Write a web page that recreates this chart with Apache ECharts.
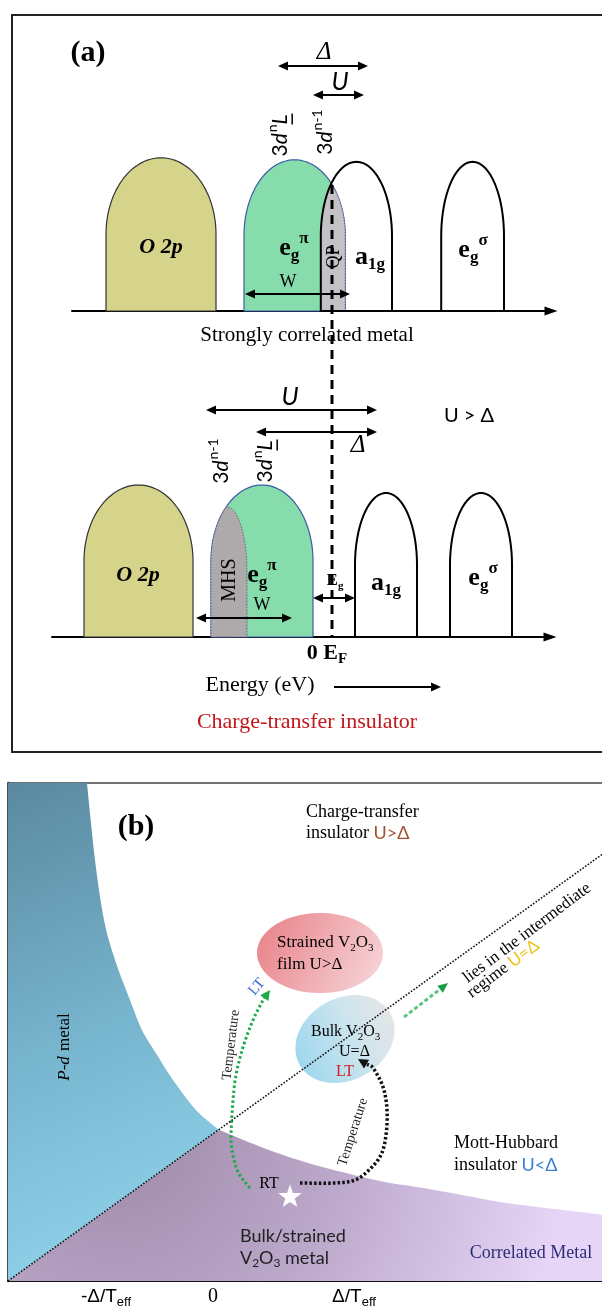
<!DOCTYPE html>
<html><head><meta charset="utf-8">
<script src="https://cdn.jsdelivr.net/npm/echarts@6/dist/echarts.min.js"></script>
<style>html,body{margin:0;padding:0;background:#fff}#c{width:602px;height:1311px}</style>
</head><body><div id="c"></div>
<script>
// ================= DATA =================
// Panel (a) upper: bands [O 2p, eg_pi, a1g, eg_sigma] (energy, E_F = 0) and heights (DOS units)
const topBandLeft   = [-5.65, -2.2, -0.28, 2.73];
const topBandRight  = [-2.9, 0.33, 1.5, 4.3];
const topBandHeight = [3.83, 3.78, 3.73, 3.73];
// Panel (a) lower
const botBandLeft   = [-6.2, -3.025, 0.575, 2.95];
const botBandRight  = [-3.475, -0.475, 2.125, 4.5];
const botBandHeight = [3.8, 3.8, 3.6, 3.6];
const mhsLobe = [-3.125, -2.125, 3.25];           // left, right, height
// arrows [x1, y1, x2, y2, heads]
const topArrows = [[-1.35,6.125,0.9,6.125,2],[-0.475,5.4,0.8,5.4,2],[-2.175,0.425,0.45,0.425,2]];
const botArrows = [[-3.15,5.675,1.125,5.675,2],[-1.9,5.125,1.125,5.125,2],[-3.4,0.475,-1.0,0.475,2],[-0.475,0.975,0.575,0.975,2],[0.05,-1.25,2.725,-1.25,1]];
const fermiLine = [[0, 11.3],[0, 0]];

// Panel (b): phase boundary branches
const pdX = [-0.894,-0.837,-0.773,-0.695,-0.589,-0.504,-0.397,-0.284,-0.121,0.043];
const pdY = [3.532,2.986,2.560,2.277,1.993,1.780,1.603,1.426,1.213,1.071];
const cmX = [0.043,0.397,0.674,0.943,1.220,1.489,1.766,2.035,2.305,2.773];
const cmY = [1.071,0.929,0.837,0.766,0.702,0.660,0.610,0.560,0.525,0.468];
const diagX = [-1.454, 2.773];
const diagY = [0, 3.035];
const xMinB = -1.454, xMaxB = 2.773, yMaxB = 3.532;
// ellipses [cx, cy, rx, ry, rotDeg]
const ellStrained = [0.759, 2.326, 0.447, 0.284, 0];
const ellBulk     = [0.936, 1.716, 0.37, 0.29, 30];
const starPos = [0.546, 0.596];
const greenX = [0.262,0.177,0.135,0.128,0.142,0.163,0.213,0.284,0.355,0.404];
const greenY = [0.660,0.773,0.929,1.050,1.284,1.461,1.660,1.851,1.993,2.064];
const blackX = [0.617,0.865,1.007,1.106,1.191,1.227,1.234,1.206,1.135,1.028];
const blackY = [0.695,0.695,0.716,0.787,0.894,1.035,1.213,1.376,1.511,1.574];
const regimeArrow = [[1.355,1.872,1.667,2.113,1]];

// labels [x, y, styleKey, parts]
const labelsA1 = [
  [-6.1, 6.45, 'panel', [['(a)','']]],
  [-0.2, 6.475, 'greek', [['Δ','']]],
  [0.2, 5.725, 'uit', [['U','']]],
  [-1.3, 4.4, 'vert', [['3',''],['d','i'],['n','sup'],['L','i u']]],
  [-0.175, 4.475, 'vert', [['3',''],['d','i'],['n-1','sup']]],
  [-4.275, 1.6, 'band', [['O 2p','']]],
  [-0.95, 1.575, 'orb', [['e',''],['g','sub'],['π','sup']]],
  [-1.1, 0.725, 'w', [['W','']]],
  [0.05, 1.35, 'qp', [['QP','']]],
  [0.95, 1.35, 'orb', [['a',''],['1g','sub']]],
  [3.525, 1.525, 'orb', [['e',''],['g','sub'],['σ','sup']]],
  [-0.625, -0.6, 'caption', [['Strongly correlated metal','']]]
];
const labelsA2 = [
  [-1.05, 6.0, 'uit', [['U','']]],
  [0.65, 4.8, 'greek', [['Δ','']]],
  [3.425, 5.525, 'ugd', [['U > Δ','']]],
  [-2.775, 4.4, 'vert', [['3',''],['d','i'],['n-1','sup']]],
  [-1.675, 4.4, 'vert', [['3',''],['d','i'],['n','sup'],['L','i u']]],
  [-4.85, 1.55, 'band', [['O 2p','']]],
  [-2.55, 1.425, 'mhs', [['MHS','']]],
  [-1.75, 1.55, 'orb', [['e',''],['g','sub'],['π','sup']]],
  [-1.75, 0.8, 'w', [['W','']]],
  [0.075, 1.4, 'eg', [['E',''],['g','sub']]],
  [1.35, 1.35, 'orb', [['a',''],['1g','sub']]],
  [3.775, 1.475, 'orb', [['e',''],['g','sub'],['σ','sup']]],
  [-0.125, -0.4, 'ef', [['0 E',''],['F','sub']]],
  [-1.8, -1.2, 'cap2', [['Energy (eV)','']]],
  [-0.625, -2.125, 'red', [['Charge-transfer insulator','']]]
];
const labelsB = [
  [-0.546, 3.22, 'panel', [['(b)','']]],
  [0.66, 3.326, 'bt', [['Charge-transfer','']]],
  [0.66, 3.177, 'bt', [['insulator ',''],['U>Δ','cal #a0522d']]],
  [0.454, 2.397, 'bt17', [['Strained V',''],['2','sub'],['O',''],['3','sub']]],
  [0.454, 2.241, 'bt17', [['film U>Δ','']]],
  [0.695, 1.766, 'bt16', [['Bulk V',''],['2','sub'],['O',''],['3','sub']]],
  [0.894, 1.624, 'bt16', [['U=Δ','']]],
  [0.936, 1.482, 'btc', [['LT','#d02020']]],
  [0.312, 2.085, 'ltb', [['LT','']]],
  [0.128, 1.674, 'temp83', [['Temperature','']]],
  [0.993, 1.057, 'temp72', [['Temperature','']]],
  [0.397, 0.688, 'btc', [['RT','']]],
  [0.191, 0.319, 'calL', [['Bulk/strained','']]],
  [0.191, 0.163, 'calL', [['V',''],['2','sub'],['O',''],['3','sub'],[' metal','']]],
  [1.709, 0.979, 'bt', [['Mott-Hubbard','']]],
  [1.709, 0.823, 'bt', [['insulator ',''],['U<Δ','cal #3a80d0']]],
  [2.255, 0.199, 'cm', [['Correlated Metal','']]],
  [-1.05, 1.66, 'pd', [['P-d','i'],[' metal','']]],
  [2.227, 2.468, 'diag', [['lies in the intermediate','']]],
  [2.057, 2.213, 'diag', [['regime ',''],['U=Δ','cal #e8c41c']]],
  [-0.759, -0.113, 'tick', [['-Δ/T',''],['eff','sub']]],
  [0, -0.113, 'tick0', [['0','']]],
  [1.0, -0.113, 'tick', [['Δ/T',''],['eff','sub']]]
];

// ================= STYLE / HELPERS =================
const SERIF = '"Liberation Serif","Times New Roman",serif';
const SANS = '"Liberation Sans",Arial,sans-serif';
const CAL = 'Lato,"Open Sans",sans-serif';
const ARCH = 0.5;
const LSTYLE = {
  panel:{family:SERIF,size:30,weight:'bold'},
  greek:{family:SERIF,size:25,italic:true},
  uit:{family:CAL,size:25,italic:true},
  vert:{family:CAL,size:21,rot:90},
  band:{family:SERIF,size:22,weight:'bold',italic:true},
  orb:{family:SERIF,size:26,weight:'bold'},
  w:{family:SERIF,size:18},
  qp:{family:SERIF,size:18,rot:90},
  mhs:{family:SERIF,size:20,rot:90},
  caption:{family:SERIF,size:21,bg:'#fff'},
  cap2:{family:SERIF,size:22},
  red:{family:SERIF,size:22,color:'#c3161c'},
  ugd:{family:CAL,size:20},
  eg:{family:SERIF,size:17,weight:'bold',bg:'#fff'},
  ef:{family:SERIF,size:22,weight:'bold'},
  bt:{family:SERIF,size:18,align:'left'},
  bt17:{family:SERIF,size:17,align:'left'},
  bt16:{family:SERIF,size:16,align:'left'},
  btc:{family:SERIF,size:16},
  ltb:{family:SERIF,size:15,rot:50,color:'#3b6bd0'},
  temp83:{family:SERIF,size:14,rot:83,color:'#222'},
  temp72:{family:SERIF,size:14,rot:72,color:'#222'},
  calL:{family:CAL,size:18,align:'left',color:'#222'},
  cm:{family:SERIF,size:18,color:'#2d2d76'},
  pd:{family:SERIF,size:17,rot:90},
  diag:{family:SERIF,size:17,rot:37},
  tick:{family:SANS,size:19},
  tick0:{family:SERIF,size:20}
};
const mctx = document.createElement('canvas').getContext('2d');

function buildLabel(api, L) {
  const st = LSTYLE[L[2]];
  const p = api.coord([L[0], L[1]]);
  const base = st.size;
  const items = L[3].map(([t, f]) => {
    const fl = (f || '').split(' ');
    const sub = fl.includes('sub'), sup = fl.includes('sup');
    const size = (sub || sup) ? Math.round(base * 0.66) : base;
    const italic = st.italic || fl.includes('i');
    const fam = fl.includes('cal') ? CAL : st.family;
    const col = fl.find(s => s.startsWith('#')) || st.color || '#000';
    const weight = st.weight || 'normal';
    const fstyle = italic ? 'italic' : 'normal';
    mctx.font = fstyle + ' ' + weight + ' ' + size + 'px ' + fam;
    const w = mctx.measureText(t).width + (italic && !st.italic ? 1 : 0);
    return {t, size, fam, col, weight, fstyle, w, dy: sub ? base * 0.3 : sup ? -base * 0.38 : 0, u: fl.includes('u')};
  });
  const total = items.reduce((s, i) => s + i.w, 0);
  let x = st.align === 'left' ? 0 : -total / 2;
  const children = [];
  if (st.bg) children.push({type:'rect', shape:{x: x - 3, y: -base * 0.6, width: total + 6, height: base * 1.3}, style:{fill: st.bg}});
  items.forEach(it => {
    children.push({type:'text', x: x, y: it.dy, style:{text: it.t, fontSize: it.size, fontFamily: it.fam, fontWeight: it.weight, fontStyle: it.fstyle, fill: it.col, align:'left', verticalAlign:'middle'}});
    if (it.u) children.push({type:'line', shape:{x1: x, y1: it.size * 0.58, x2: x + it.w, y2: it.size * 0.58}, style:{stroke: it.col, lineWidth: 1.5}});
    x += it.w;
  });
  return {type:'group', x: p[0], y: p[1], rotation: (st.rot || 0) * Math.PI / 180, children};
}
function labelSeries(gi, labels) {
  return {type:'custom', xAxisIndex: gi, yAxisIndex: gi, clip: false, silent: true,
    data: labels.map((l, i) => [l[0], l[1], i]),
    renderItem: (params, api) => buildLabel(api, labels[api.value(2)])};
}

function domeTop(E, l, r, h) {
  const cx = (l + r) / 2, rx = (r - l) / 2, ry = h * ARCH, yb = h - ry;
  let u = (E - cx) / rx; u = Math.max(-1, Math.min(1, u));
  return yb + ry * Math.sqrt(1 - u * u);
}
function domePts(l, r, h) {
  const cx = (l + r) / 2, rx = (r - l) / 2, ry = h * ARCH, yb = h - ry, pts = [[l, 0]];
  const n = 60;
  for (let i = 0; i <= n; i++) { const t = Math.PI * (1 - i / n); pts.push([cx + rx * Math.cos(t), yb + ry * Math.sin(t)]); }
  pts.push([r, 0]);
  return pts;
}
const DOME_STYLE = [
  {fill:'#d5d48a', stroke:'#333', lineWidth:1.2},
  {fill:'#86dcab', stroke:'#3b5ca8', lineWidth:1.2},
  {fill:'none', stroke:'#000', lineWidth:2},
  {fill:'none', stroke:'#000', lineWidth:2}
];
function domeSeries(gi, L, R, H, idxs) {
  return {type:'custom', xAxisIndex: gi, yAxisIndex: gi, clip:false, silent:true,
    data: idxs.map(i => [L[i], R[i], H[i], i]),
    renderItem: (p, api) => ({type:'polygon', shape:{points: domePts(api.value(0), api.value(1), api.value(2)).map(q => api.coord(q))}, style: DOME_STYLE[api.value(3)]})};
}
function overlapSeries(gi, a, b, fill) {
  return {type:'custom', xAxisIndex: gi, yAxisIndex: gi, clip:false, silent:true,
    data: [[a[0], a[1], a[2], b[0], b[1], b[2]]],
    renderItem: (p, api) => {
      const A = [api.value(0), api.value(1), api.value(2)], B = [api.value(3), api.value(4), api.value(5)];
      const lo = Math.max(A[0], B[0]), hi = Math.min(A[1], B[1]), n = 160, pts = [[lo, 0]];
      for (let i = 0; i <= n; i++) { const E = lo + (hi - lo) * i / n; pts.push([E, Math.min(domeTop(E, A[0], A[1], A[2]), domeTop(E, B[0], B[1], B[2]))]); }
      pts.push([hi, 0]);
      return {type:'polygon', shape:{points: pts.map(q => api.coord(q))}, style:{fill: fill, stroke:'#55607a', lineWidth:1, lineDash:[1.5,1.5]}};
    }};
}
function head(tip, from, len, hw) {
  const dx = tip[0] - from[0], dy = tip[1] - from[1], L = Math.hypot(dx, dy) || 1, ux = dx / L, uy = dy / L;
  const bx = tip[0] - ux * len, by = tip[1] - uy * len;
  return [tip, [bx - uy * hw, by + ux * hw], [bx + uy * hw, by - ux * hw]];
}
function arrowSeries(gi, rows, color, width, dash) {
  return {type:'custom', xAxisIndex: gi, yAxisIndex: gi, clip:false, silent:true, data: rows,
    renderItem: (p, api) => {
      const p1 = api.coord([api.value(0), api.value(1)]), p2 = api.coord([api.value(2), api.value(3)]);
      const both = api.value(4) === 2;
      const dx = p2[0] - p1[0], dy = p2[1] - p1[1], L = Math.hypot(dx, dy), ux = dx / L, uy = dy / L;
      const HL = 10, HW = 4.5;
      const a = both ? [p1[0] + ux * HL * 0.7, p1[1] + uy * HL * 0.7] : p1;
      const b = [p2[0] - ux * HL * 0.7, p2[1] - uy * HL * 0.7];
      const ch = [{type:'line', shape:{x1:a[0], y1:a[1], x2:b[0], y2:b[1]}, style:{stroke: color, lineWidth: width, lineDash: dash || null}},
        {type:'polygon', shape:{points: head(p2, p1, HL, HW)}, style:{fill: color === '#000' ? '#000' : '#1a9e45'}}];
      if (both) ch.push({type:'polygon', shape:{points: head(p1, p2, HL, HW)}, style:{fill: color}});
      return {type:'group', children: ch};
    }};
}
// Catmull-Rom smoothing of pixel points (rendering only)
function catmull(pts, n) {
  const out = [];
  for (let i = 0; i < pts.length - 1; i++) {
    const p0 = pts[Math.max(i - 1, 0)], p1 = pts[i], p2 = pts[i + 1], p3 = pts[Math.min(i + 2, pts.length - 1)];
    for (let k = 0; k < n; k++) {
      const t = k / n, t2 = t * t, t3 = t2 * t;
      out.push([0, 1].map(d => 0.5 * ((2 * p1[d]) + (-p0[d] + p2[d]) * t + (2 * p0[d] - 5 * p1[d] + 4 * p2[d] - p3[d]) * t2 + (-p0[d] + 3 * p1[d] - 3 * p2[d] + p3[d]) * t3)));
    }
  }
  out.push(pts[pts.length - 1]);
  return out;
}

// Panel (b) geometry built from the arrays
const pdCurve = pdX.map((x, i) => [x, pdY[i]]);
const cmCurve = cmX.map((x, i) => [x, cmY[i]]);
const G = echarts.graphic.LinearGradient;
const RG = echarts.graphic.RadialGradient;
const REGION_FILL = [
  () => new G(0, 0, 1, 1, [{offset:0, color:'#5a89a0'}, {offset:0.5, color:'#78b6cf'}, {offset:1, color:'#95d9f0'}]),
  () => new RG(0.18, 0, 3, [{offset:0, color:'#9d88a7'}, {offset:0.5, color:'#bca8ca'}, {offset:1, color:'#e6d5f7'}])
];
const ELL_FILL = [
  () => new G(0, 0.2, 1, 1, [{offset:0, color:'#e8838a'}, {offset:1, color:'#f7d9dc'}]),
  () => new G(0, 0.7, 1, 0.2, [{offset:0, color:'#9ed7ee'}, {offset:0.55, color:'#cbe4ee'}, {offset:1, color:'#e6e6e6'}])
];
const CURVES = [
  {x: greenX, y: greenY, color:'#1faa4a', width:3, dash:[2.5,2.5]},
  {x: blackX, y: blackY, color:'#111', width:3.5, dash:[2.5,2.2]}
];

const series = [
  // ----- panel (a) upper -----
  domeSeries(0, topBandLeft, topBandRight, topBandHeight, [0, 1]),
  overlapSeries(0, [topBandLeft[1], topBandRight[1], topBandHeight[1]], [topBandLeft[2], topBandRight[2], topBandHeight[2]], '#c4c2c6'),
  domeSeries(0, topBandLeft, topBandRight, topBandHeight, [2, 3]),
  // ----- panel (a) lower -----
  domeSeries(1, botBandLeft, botBandRight, botBandHeight, [0, 1]),
  overlapSeries(1, [botBandLeft[1], botBandRight[1], botBandHeight[1]], mhsLobe, '#aea9aa'),
  domeSeries(1, botBandLeft, botBandRight, botBandHeight, [2, 3]),
  {type:'line', xAxisIndex:1, yAxisIndex:1, data: fermiLine, symbol:'none', silent:true,
    lineStyle:{color:'#000', width:3, type:[9,6]}},
  arrowSeries(0, topArrows, '#000', 2),
  arrowSeries(1, botArrows, '#000', 2),
  labelSeries(0, labelsA1),
  labelSeries(1, labelsA2),
  // ----- panel (b) -----
  {type:'custom', xAxisIndex:2, yAxisIndex:2, clip:false, silent:true, data:[[0],[1]],
    renderItem: (p, api) => {
      const k = api.value(0);
      let pts;
      if (k === 0) pts = [api.coord([xMinB, yMaxB])].concat(catmull(pdCurve.map(q => api.coord(q)), 8)).concat([api.coord([xMinB, 0])]);
      else pts = catmull(cmCurve.map(q => api.coord(q)), 8).concat([api.coord([xMaxB, 0]), api.coord([xMinB, 0])]);
      return {type:'polygon', shape:{points: pts}, style:{fill: REGION_FILL[k]()}};
    }},
  {type:'custom', xAxisIndex:2, yAxisIndex:2, clip:false, silent:true, data:[ellStrained.concat([0]), ellBulk.concat([1])],
    renderItem: (p, api) => {
      const c = api.coord([api.value(0), api.value(1)]), s = api.size([api.value(2), api.value(3)]);
      const th = api.value(4) * Math.PI / 180, pts = [];
      for (let i = 0; i < 90; i++) { const t = 2 * Math.PI * i / 90, ex = s[0] * Math.cos(t), ey = s[1] * Math.sin(t);
        pts.push([c[0] + ex * Math.cos(th) - ey * Math.sin(th), c[1] - (ex * Math.sin(th) + ey * Math.cos(th))]); }
      return {type:'polygon', shape:{points: pts}, style:{fill: ELL_FILL[api.value(5)]()}};
    }},
  {type:'line', xAxisIndex:2, yAxisIndex:2, data: diagX.map((x, i) => [x, diagY[i]]), symbol:'none', silent:true,
    lineStyle:{color:'#111', width:1.6, type:[1.6,1.6]}},
  {type:'custom', xAxisIndex:2, yAxisIndex:2, clip:false, silent:true, data:[[0],[1]],
    renderItem: (p, api) => {
      const C = CURVES[api.value(0)], pts = C.x.map((x, i) => api.coord([x, C.y[i]]));
      const n = pts.length;
      const line = catmull(pts.slice(0, n - 1).concat([[pts[n-1][0] - (pts[n-1][0]-pts[n-2][0])*0.6, pts[n-1][1] - (pts[n-1][1]-pts[n-2][1])*0.6]]), 8);
      return {type:'group', children:[
        {type:'polyline', shape:{points: line}, style:{stroke: C.color, lineWidth: C.width, lineDash: C.dash, fill:'none'}},
        {type:'polygon', shape:{points: head(pts[n-1], pts[n-2], 10, 5)}, style:{fill: C.color}}
      ]};
    }},
  arrowSeries(2, regimeArrow, '#5cc27c', 3, [4,2.5]),
  {type:'custom', xAxisIndex:2, yAxisIndex:2, clip:false, silent:true, data:[starPos],
    renderItem: (p, api) => {
      const c = api.coord([api.value(0), api.value(1)]), pts = [];
      for (let i = 0; i < 10; i++) { const r = i % 2 ? 5 : 12.5, a = -Math.PI / 2 + i * Math.PI / 5; pts.push([c[0] + r * Math.cos(a), c[1] + r * Math.sin(a)]); }
      return {type:'polygon', shape:{points: pts}, style:{fill:'#fff'}};
    }},
  labelSeries(2, labelsB)
];

const hidden = {show:false};
const chart = echarts.init(document.getElementById('c'), null, {renderer:'canvas'});
chart.setOption({
  backgroundColor:'#fff',
  animation:false,
  grid:[
    {left:72, top:15, width:479, height:328, outerBoundsMode:'none', containLabel:false},
    {left:52, top:181, width:498, height:576, outerBoundsMode:'none', containLabel:false},
    {left:8, top:783, width:640, height:498, show:true, borderColor:'#444', borderWidth:1.5, outerBoundsMode:'none', containLabel:false},
    {left:12, top:15, width:660, height:737, show:true, borderColor:'#222', borderWidth:2, outerBoundsMode:'none', containLabel:false}
  ],
  xAxis:[
    {gridIndex:0, type:'value', min:-6.5, max:5.475, axisLine:{show:true, onZero:true, symbol:['none','triangle'], symbolSize:[9,13], lineStyle:{color:'#000', width:2}}, axisTick:hidden, axisLabel:hidden, splitLine:hidden},
    {gridIndex:1, type:'value', min:-7, max:5.45, axisLine:{show:true, onZero:true, symbol:['none','triangle'], symbolSize:[9,13], lineStyle:{color:'#000', width:2}}, axisTick:hidden, axisLabel:hidden, splitLine:hidden},
    {gridIndex:2, type:'value', min:xMinB, max:xMinB + (xMaxB - xMinB) * 640 / 596, axisLine:{show:true, lineStyle:{color:'#111', width:2}}, axisTick:hidden, axisLabel:hidden, splitLine:hidden}
  ],
  yAxis:[
    {gridIndex:0, type:'value', min:-0.8, max:7.4, show:false},
    {gridIndex:1, type:'value', min:-3, max:11.4, show:false},
    {gridIndex:2, type:'value', min:0, max:yMaxB, axisLine:{show:true, onZero:false, lineStyle:{color:'#444', width:2.5}}, axisTick:hidden, axisLabel:hidden, splitLine:hidden}
  ],
  series: series
});
</script></body></html>
